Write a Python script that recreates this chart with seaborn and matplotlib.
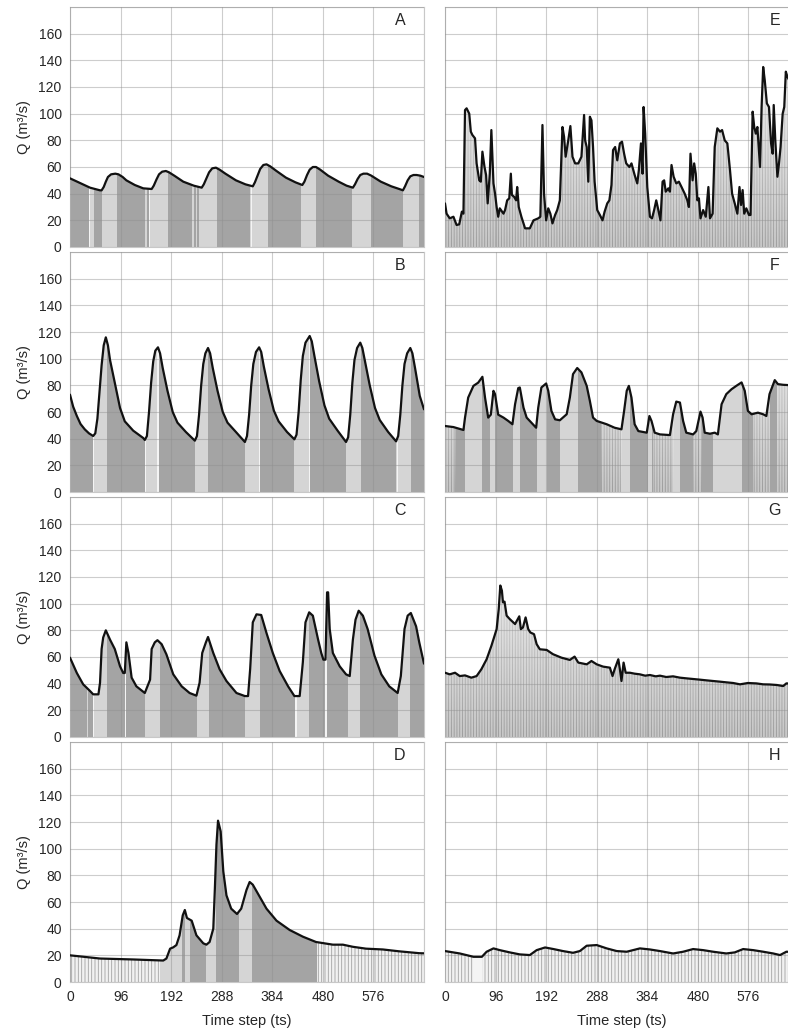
import numpy as np
import matplotlib
matplotlib.use("Agg")
import matplotlib.pyplot as plt
import seaborn as sns

sns.set_theme(style="whitegrid")
plt.rcParams['font.family'] = ['Liberation Sans', 'DejaVu Sans']
plt.rcParams['hatch.linewidth'] = 0.6

# ---- data (time step, discharge) ----
A_t = [0, 19, 38, 57, 60, 64, 68, 72, 78, 86, 92, 100, 107, 123, 139, 155,
       159, 164, 169, 175, 182, 188, 198, 215, 235, 250,
       254, 259, 264, 270, 277, 284, 295, 315, 333, 347,
       351, 356, 361, 367, 373, 380, 392, 410, 428, 441,
       445, 450, 455, 461, 467, 475, 490, 510, 525, 537,
       541, 546, 551, 557, 564, 572, 590, 610, 625, 632,
       636, 641, 646, 652, 658, 665, 672]
A_q = [51.5, 48, 44.5, 42.5, 42.5, 45, 49, 52.5, 54.5, 55, 54.5, 52.5, 50, 46.5, 44, 43.5,
       46, 50.5, 54.5, 56.5, 57, 56, 53.5, 49, 46, 44.5,
       47, 51.5, 56, 59, 59.5, 58, 55, 50, 47, 45.5,
       48.5, 53.5, 58.5, 61.5, 62, 60.5, 57, 52, 48.5, 46.5,
       49, 54, 58, 60, 60, 58, 53.5, 49, 46, 44.5,
       47, 51, 54, 55, 55, 53.5, 49, 45.5, 43.5, 42.5,
       45.5, 50, 53, 54, 54, 53.5, 52.5]

B_t = [0, 6, 13, 20, 28, 36, 44, 48, 52, 56, 60, 64, 68, 72, 76, 85, 95, 104, 120, 139, 142,
       146, 150, 154, 158, 162, 167, 171, 176, 185, 195, 204, 220, 237,
       241, 245, 249, 253, 257, 262, 266, 271, 280, 290, 299, 315, 332,
       336, 340, 344, 348, 353, 359, 363, 368, 377, 387, 396, 412, 426,
       430, 434, 438, 442, 447, 455, 459, 464, 473, 483, 492, 508, 524,
       528, 532, 536, 540, 545, 551, 555, 560, 569, 579, 588, 604, 619,
       623, 627, 631, 635, 640, 646, 650, 655, 664, 672]
B_q = [73, 64, 57, 51, 47, 44, 42, 44, 55, 75, 95, 110, 116, 110, 99, 82, 63, 53, 46, 40.5, 39,
       42, 60, 82, 98, 106, 108.5, 104, 93, 76, 60, 52, 45, 38.5,
       42, 58, 80, 96, 104, 108, 104, 93, 76, 60, 52, 45, 37.5,
       42, 58, 80, 96, 105, 108.5, 105, 94, 77, 61, 53, 45, 39.5,
       43, 60, 84, 102, 112, 117, 113, 102, 83, 65, 55, 46, 37.5,
       41, 58, 82, 99, 108, 112, 108, 98, 80, 63, 54, 45, 38,
       42, 58, 80, 96, 104, 108, 104, 93, 72, 62]

C_t = [0, 13, 25, 38, 44, 54, 57, 60, 63, 68, 76, 85, 95, 101, 104, 107, 111, 117, 126, 142,
       152, 155, 161, 166, 174, 183, 196, 212, 227, 240,
       246, 251, 258, 262, 272, 284, 297, 316, 332, 338,
       342, 347, 354, 363, 373, 385, 398, 414, 426, 436,
       442, 447, 454, 461, 471, 477, 481, 485, 488, 490, 493, 499, 512, 524, 531,
       537, 542, 548, 556, 565, 578, 591, 606, 622,
       628, 635, 641, 647, 657, 663, 672]
C_q = [59.5, 48, 39.5, 34.5, 32, 32, 40.7, 66, 74.6, 80, 73, 66, 53, 48, 48, 71, 63, 44.5, 38, 33,
       43, 66, 71, 72.6, 69.6, 62, 47, 38, 33, 31,
       40.7, 63, 71, 75, 63, 50.8, 42, 33, 30.7, 30.7,
       51, 86, 92, 91.5, 78, 63, 49.5, 38, 30.7, 30.7,
       56, 86, 93.5, 91, 73, 63, 58, 58, 108.5, 108.5, 81, 63, 53, 47, 45.7,
       73, 88, 94.7, 91, 81, 61, 47, 38, 33,
       45.7, 81, 91, 93, 83, 71, 55]

D_t = [0, 57, 120, 177, 183, 190, 196, 202, 208, 214, 218, 222, 231, 240, 253, 259, 265,
       272, 275, 278, 281, 286, 291, 297, 306, 317, 325, 335, 341, 347, 360, 373,
       392, 417, 442, 467, 499, 518, 537, 562, 594, 625, 663, 672]
D_q = [20, 17.6, 16.9, 16.1, 17.6, 25, 26, 27.7, 35, 50, 54, 48, 46, 35, 29, 28, 30,
       40, 70, 103, 121, 113, 83, 65, 55, 51, 55, 69, 75, 73, 64, 55,
       46, 39, 34, 30, 28, 28, 26.4, 25, 24.4, 23, 21.6, 21.5]

E_t = [0, 3, 9, 16, 22, 27, 32, 35, 38, 41, 46, 49, 52, 57, 60, 65, 68, 71, 75, 78, 81,
       85, 88, 92, 95, 98, 101, 104, 111, 114, 118, 122, 125, 127, 131, 135, 137, 140,
       145, 152, 161, 168, 177, 181, 185, 188, 192, 196, 200, 204, 209, 213, 218, 223,
       226, 229, 234, 238, 242, 247, 253, 259, 264, 266, 269, 272, 275, 278, 281, 284,
       289, 294, 299, 303, 308, 312, 316, 319, 323, 327, 332, 336, 340, 344, 350, 354,
       360, 365, 368, 372, 375, 377, 380, 384, 389, 393, 397, 401, 405, 409, 413, 416,
       419, 424, 427, 430, 434, 439, 444, 449, 455, 460, 463, 466, 470, 473, 476, 479,
       482, 485, 490, 495, 500, 503, 508, 512, 517, 522, 526, 531, 536, 541, 545, 550,
       555, 559, 562, 565, 568, 572, 577, 580, 584, 587, 590, 593, 598, 601, 604, 607,
       611, 615, 619, 622, 624, 627, 631, 634, 637, 641, 644, 647, 650, 660, 672]
E_q = [32.7, 25, 21.5, 22.7, 16.5, 17, 26.5, 25, 102.7, 104, 100, 86.5, 84, 81.5, 62.7, 50, 49, 71.5, 60, 54, 32.7,
       55, 87.7, 47.7, 40, 30, 22.7, 29, 25, 27.7, 35, 36.5, 55, 39, 37.7, 35, 45, 30,
       22.7, 14, 14, 20, 21.5, 22.7, 91.5, 40, 20, 29, 25, 17.7, 24, 27.7, 35, 90,
       82.7, 67.7, 80, 90.7, 67.7, 62.7, 62.7, 67.7, 99, 80, 75, 49, 97.7, 95, 75, 49,
       27.7, 24, 20, 26.5, 32.7, 35, 46.5, 72.7, 75, 65, 77.7, 79, 70, 62.7, 60, 62.7,
       54, 47.7, 57.7, 77.7, 55, 105, 85, 45, 22.7, 21.5, 27.7, 35, 27.7, 20, 49, 50,
       41.5, 44, 41.5, 61.5, 52.7, 47.7, 49, 45, 40, 35, 30, 70, 50, 62.7, 55, 35,
       36.5, 21.5, 27.7, 22.7, 45, 21.5, 25, 75, 89, 86.5, 87.7, 80, 77.7, 57.7, 40, 32.7,
       25, 45, 31.5, 42.7, 25, 29, 24, 24, 101.5, 90, 85, 90, 60, 105, 135, 125,
       107.7, 105, 77.7, 70, 106.5, 80, 52.7, 62.7, 75, 100, 105, 131.5, 127.7, 120, 110]

F_t = [0, 16, 35, 38, 44, 54, 63, 71, 76, 82, 87, 92, 95, 101, 111, 120, 128, 133, 139, 142,
       149, 155, 164, 173, 177, 183, 192, 196, 202, 209, 218, 231, 237, 243, 251, 259,
       269, 275, 281, 288, 307, 322, 335, 340, 345, 349, 354, 360, 367, 383, 388, 392,
       398, 408, 427, 433, 439, 446, 452, 458, 471, 477, 485, 489, 493, 503, 512, 518,
       525, 534, 544, 553, 563, 569, 575, 582, 594, 604, 610, 616, 626, 632, 642, 651, 672]
F_q = [49.5, 48.7, 46.5, 55.8, 70.8, 79.6, 82, 86.4, 70.8, 55.8, 58, 75.9, 73.4, 58, 55.8, 53.3, 50.8, 65.8, 77.9, 78.4,
       63.3, 55.8, 52, 48.2, 63.3, 78.4, 81.4, 75.9, 60.8, 54.5, 53.8, 58.3, 70.8, 88.4, 93, 89.7,
       79.6, 68.3, 55.8, 53.3, 50.8, 48.2, 47, 60.8, 75.9, 79.6, 70.8, 50.8, 45.7, 44.5, 57, 53.3,
       44.5, 43.2, 42.7, 58.3, 67.8, 67.1, 53.3, 44.5, 43.2, 45.7, 60.3, 55.8, 44.5, 43.7, 44.5, 43.2,
       65.8, 73.4, 77.1, 79.6, 82.2, 75.9, 60.8, 58.3, 59.5, 58.3, 57, 73.4, 83.9, 80.9, 80.4, 80.2, 80]

G_t = [0, 9, 19, 28, 38, 50, 60, 69, 79, 88, 98, 102, 105, 108, 110, 113, 117, 123, 133,
       141, 144, 148, 153, 158, 162, 169, 174, 180, 193, 205, 221, 237, 246, 253, 269,
       278, 288, 300, 313, 318, 322, 329, 332, 335, 339, 343, 351, 360, 370, 380, 389,
       400, 408, 420, 433, 446, 458, 471, 484, 496, 509, 522, 534, 547, 560, 575, 591,
       604, 616, 630, 642, 648, 672]
G_q = [48.2, 47, 48.2, 45.7, 46.2, 44.5, 45.7, 50.8, 58.3, 68.3, 80.9, 96, 113.6, 109.8, 101, 101.5, 91, 88.4, 84.7,
       90.5, 80.9, 82.2, 89.7, 80.9, 78.4, 77.1, 69.6, 65.8, 65.3, 62.1, 59.5, 57.8, 60.3, 55.8, 54.5,
       57, 54.5, 52.8, 52, 45.7, 50.8, 58.3, 50.8, 42, 55.8, 48.2, 48.2, 47.5, 47, 46, 46.5,
       45.5, 46, 45, 45.5, 44.5, 44, 43.5, 43, 42.5, 42, 41.5, 41, 40.5, 39.5, 40.5, 40.2,
       39.5, 39.4, 39, 38.2, 40.2, 40]

H_t = [0, 28, 54, 70, 79, 92, 104, 123, 142, 161, 174, 190, 206, 224, 243, 256, 269, 288,
       307, 326, 345, 357, 370, 389, 408, 433, 452, 471, 490, 509, 534, 550, 566, 585,
       604, 623, 636, 648, 672]
H_q = [23.2, 21.4, 18.9, 18.9, 22.7, 25.2, 23.9, 22.2, 20.7, 20.2, 23.9, 25.9, 24.7, 23.2, 21.9, 23.2, 27.2, 27.7,
       25.2, 23.2, 22.7, 23.9, 25.2, 24.4, 23.2, 21.4, 22.7, 24.7, 23.9, 22.7, 21.4, 22.2, 24.7, 23.9,
       22.7, 21.4, 20.2, 22.7, 22.5]

# shading of the area under each curve: (start, end) time step ranges
A_dark = [(0, 37), (45, 60), (90, 143), (146, 150), (186, 232), (236, 239), (242, 245),
          (279, 342), (375, 439), (467, 535), (571, 632), (662, 672)]
A_white = [(37, 38), (89, 90), (150, 151), (343, 345), (548, 549)]
B_dark = [(0, 43), (70, 142), (169, 237), (262, 332), (361, 426), (455, 524), (553, 619), (648, 672)]
B_white = [(43, 46), (142, 145), (166, 169), (359, 361), (453, 455), (620, 622)]
C_dark = [(0, 32), (35, 44), (70, 104), (107, 143), (170, 241), (264, 333), (360, 428),
          (454, 485), (488, 527), (550, 622), (645, 672)]
C_white = [(44, 45), (104, 107), (428, 431), (485, 488)]
D_dark = [(213, 218), (228, 258), (278, 320), (345, 468)]
D_sparse = [(0, 170), (468, 672)]
E_mixed = [(0, 672)]
F_dark = [(19, 38), (70, 85), (95, 130), (142, 174), (193, 218), (253, 297), (351, 386),
          (392, 395), (446, 471), (487, 509), (563, 585), (617, 630)]
F_mixed = [(0, 19), (297, 335), (395, 433), (471, 487), (585, 617), (630, 672)]
G_mixed = [(0, 672)]
H_sparse = [(0, 54), (70, 672)]
H_white = [(54, 70)]

xticks = [0, 96, 192, 288, 384, 480, 576]
yticks = [0, 20, 40, 60, 80, 100, 120, 140, 160]

DARK = '#a4a4a4'
LIGHT = '#d5d5d5'
MID = '#989898'

panels = [
    ('A', A_t, A_q, A_dark, A_white, [], []),
    ('B', B_t, B_q, B_dark, B_white, [], []),
    ('C', C_t, C_q, C_dark, C_white, [], []),
    ('D', D_t, D_q, D_dark, [], [], D_sparse),
    ('E', E_t, E_q, [], [], E_mixed, []),
    ('F', F_t, F_q, F_dark, [], F_mixed, []),
    ('G', G_t, G_q, [], [], G_mixed, []),
    ('H', H_t, H_q, [], H_white, [], H_sparse),
]

W, H = 788, 1030
fig = plt.figure(figsize=(W / 100, H / 100), dpi=100)
fig.set_facecolor('white')

# white -> transparent gradient so tall striped bars fade upwards
grad = np.zeros((256, 1, 4))
grad[..., :3] = 1.0
grad[:, 0, 3] = np.clip(np.linspace(0, 180, 256) / 120, 0, 1) * 0.6


def draw_panel(ax, letter, t, q, dark, white, mixed, sparse):
    poly = ax.fill_between(t, q, 0, color=LIGHT, lw=0, zorder=1)
    clip = poly.get_paths()[0]

    def span(a, b, **kw):
        r = ax.axvspan(a, b, lw=0, zorder=1.5, **kw)
        r.set_clip_path(clip, ax.transData)

    for a, b in dark:
        span(a, b, facecolor=DARK)
    for a, b in white:
        span(a, b, facecolor='#f4f4f4')
    for a, b in mixed:
        span(a, b, facecolor='#c8c8c8', edgecolor=MID, hatch='||||||')
        im = ax.imshow(grad, extent=[a, b, 0, 180], origin='lower', aspect='auto', zorder=1.8)
        im.set_clip_path(clip, ax.transData)
    for a, b in sparse:
        span(a, b, facecolor='#f1f1f1', edgecolor='#a2a2a2', hatch='|||||')

    sns.lineplot(x=t, y=q, ax=ax, color='#111111', lw=1.6, zorder=5)

    ax.set_xlim(0, 672)
    ax.set_ylim(0, 180)
    ax.set_xticks(xticks + [672])
    ax.set_yticks(yticks + [180])
    ax.set_axisbelow(False)
    ax.grid(True, color='#909090', lw=0.8, alpha=0.45)
    for s in ax.spines.values():
        s.set_color('#c8c8c8')
        s.set_linewidth(0.8)
    ax.tick_params(length=0, labelsize=10)
    ax.text(0.932, 0.945, letter, transform=ax.transAxes, fontsize=11.5,
            ha='center', va='center', zorder=6)


for i, (letter, t, q, dark, white, mixed, sparse) in enumerate(panels):
    col, row = divmod(i, 4)
    left = 70 if col == 0 else 445
    bottom = 247 + 245 * row
    ax = fig.add_axes([left / W, 1 - bottom / H, 354 / W, 240 / H])
    draw_panel(ax, letter, t, q, dark, white, mixed, sparse)

    if col == 0:
        ax.set_yticklabels([str(v) for v in yticks] + [''])
        ax.set_ylabel('Q (m³/s)', fontsize=10.5, labelpad=5)
        ax.tick_params(axis='y', pad=6)
    else:
        ax.set_yticklabels([])
        ax.set_ylabel('')
    if row == 3:
        ax.set_xticklabels([str(v) for v in xticks] + [''])
        ax.set_xlabel('Time step (ts)', fontsize=10.5, labelpad=7)
        ax.tick_params(axis='x', pad=6)
    else:
        ax.set_xticklabels([])
        ax.set_xlabel('')

fig.savefig('out.png', dpi=100, facecolor='white')
